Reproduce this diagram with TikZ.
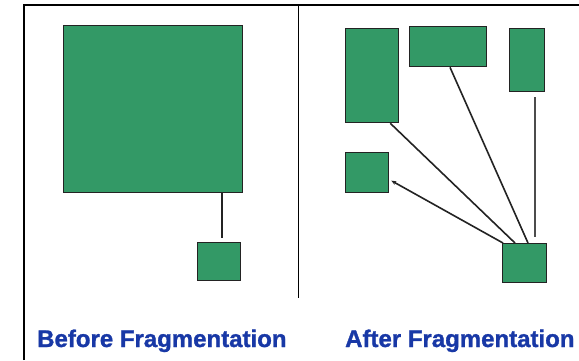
\documentclass[tikz,border=0pt]{standalone}
\usepackage{fontspec}
\setmainfont{Liberation Sans}
\newfontfamily\capfont[FakeBold=1.2]{Liberation Sans Bold}
\usetikzlibrary{calc,arrows.meta}
\definecolor{blockgreen}{RGB}{51,153,102}
\definecolor{labelblue}{RGB}{24,56,166}
\definecolor{edgegray}{RGB}{35,35,35}
\tikzset{
  block/.style={draw=edgegray, line width=1.3pt, fill=blockgreen, inner sep=0pt, anchor=north west},
  link/.style={draw=edgegray, line width=1.6pt},
  frame/.style={draw=black, line width=1.5pt},
  caption/.style={text=labelblue, font=\capfont\fontsize{24}{28}\selectfont, anchor=base west, inner sep=0pt}
}
\begin{document}
\begin{tikzpicture}[x=1pt,y=-1pt]
\useasboundingbox (0,0) rectangle (579,360);
\fill[white] (0,0) rectangle (579,360);
% frame
\coordinate (ftl) at (24,5);
\coordinate (fbl) at (24,360);
\coordinate (ftr) at (579,5);
\coordinate (dtop) at (298.5,5);
\coordinate (dbot) at (298.5,298);
\draw[frame] (fbl) -- (ftl) -- (ftr);
\draw[frame] (dtop) -- (dbot);
% before
\node[block, minimum width=179pt, minimum height=167pt] (big) at (63,25) {};
\node[block, minimum width=43pt, minimum height=38pt] (small) at (197,242) {};
\coordinate (bs) at (222,238);
\draw[link] (big.south -| bs) -- (bs);
% after
\node[block, minimum width=53pt, minimum height=94pt] (A) at (345,28) {};
\node[block, minimum width=77pt, minimum height=40pt] (B) at (409,26) {};
\node[block, minimum width=35pt, minimum height=63pt] (C) at (509,28) {};
\node[block, minimum width=43pt, minimum height=40pt] (D) at (345,152) {};
\node[block, minimum width=44pt, minimum height=39pt] (E) at (502,243) {};
\draw[link] ($(A.south east)+(-9,0)$) -- ($(E.north west)+(13,0)$);
\draw[link] ($(B.south west)+(41,0)$) -- ($(E.north west)+(26,0)$);
\draw[link, {Stealth[length=5pt,width=4pt]}-] ($(D.east)+(2,8)$) -- ($(E.north west)+(1,0)$);
\coordinate (c1) at (535,97);
\coordinate (c2) at (535,237);
\draw[link, line width=1.8pt, draw=gray!60!black] (c1) -- (c2);
% captions
\node[caption] (capL) at (37,347) {Before Fragmentation};
\node[caption] (capR) at (345,347) {After Fragmentation};
\end{tikzpicture}
\end{document}
